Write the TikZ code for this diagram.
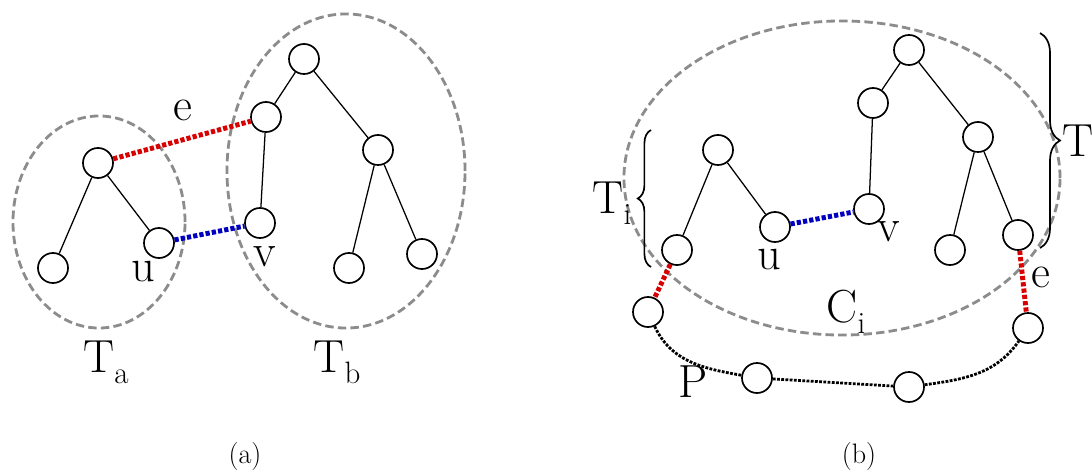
\documentclass[tikz,border=0pt]{standalone}
\usetikzlibrary{decorations.pathreplacing}
\newcommand{\lblsub}[2]{#1\raisebox{-8pt}{\fontsize{22}{22}\selectfont #2}}

\begin{document}
\begin{tikzpicture}[x=0.025cm,y=-0.025cm,
  vert/.style={draw,circle,line width=1.2pt,minimum size=0.75cm,inner sep=0pt},
  edge/.style={line width=0.9pt},
  part/.style={gray!90,line width=2pt,dash pattern=on 6pt off 3pt},
  redge/.style={red!85!black,line width=3.5pt,dash pattern=on 3pt off 1.5pt},
  bedge/.style={blue!75!black,line width=3.5pt,dash pattern=on 3pt off 1.5pt},
  pth/.style={line width=2pt,dash pattern=on 2pt off 1pt},
  lbl/.style={font=\fontsize{33}{33}\selectfont,inner sep=0pt},
  brc/.style={decorate,line width=1.2pt}]
  \useasboundingbox (0,0) rectangle (1092,472);

  % (a) two trees joined by e
  \draw[part] (99,222) ellipse [x radius=2.15cm,y radius=2.65cm];
  \draw[part] (346,171) ellipse [x radius=2.975cm,y radius=3.925cm];
  \node[vert] (ra) at (98,163) {};
  \node[vert] (la) at (53,268) {};
  \node[vert] (ua) at (159,243) {};
  \node[vert] (rb) at (304,59) {};
  \node[vert] (mb) at (266,117) {};
  \node[vert] (va) at (260,223) {};
  \node[vert] (cb) at (378,150) {};
  \node[vert] (lb) at (349,268) {};
  \node[vert] (kb) at (422,254) {};
  \draw[edge] (ra)--(la) (ra)--(ua);
  \draw[edge] (rb)--(mb) (mb)--(va) (rb)--(cb) (cb)--(lb) (cb)--(kb);
  \draw[redge] (ra)--(mb);
  \draw[bedge] (ua)--(va);
  \node[lbl] (ea_l) at (183,110) {e};
  \node[lbl] (ua_l) at (143,272) {u};
  \node[lbl] (va_l) at (265,257) {v};
  \node[lbl] (ta) at (106,362) {\lblsub{T}{a}};
  \node[lbl] (tb) at (337,362) {\lblsub{T}{b}};

  % (b) cycle C_i through the path P
  \draw[part] (842,178) ellipse [x radius=5.45cm,y radius=3.925cm];
  \node[vert] (rt) at (909,50) {};
  \node[vert] (rl) at (873,103) {};
  \node[vert] (vb) at (869,209) {};
  \node[vert] (rr) at (978,137) {};
  \node[vert] (lf) at (950,250) {};
  \node[vert] (ea) at (1018,235) {};
  \node[vert] (ti) at (718,150) {};
  \node[vert] (tl) at (677,250) {};
  \node[vert] (ub) at (775,227) {};
  \node[vert] (p1) at (648,312) {};
  \node[vert] (p2) at (757,378) {};
  \node[vert] (p3) at (909,387) {};
  \node[vert] (eb) at (1028,328) {};
  \draw[edge] (rt)--(rl) (rl)--(vb) (rt)--(rr) (rr)--(lf) (rr)--(ea);
  \draw[edge] (ti)--(tl) (ti)--(ub);
  \draw[bedge] (ub)--(vb);
  \draw[redge] (tl)--(p1);
  \draw[redge] (ea)--(eb);
  \draw[pth] (p1) to[out=-65,in=170] (p2);
  \draw[pth] (p2)--(p3);
  \draw[pth] (p3) to[out=8,in=-125] (eb);
  \coordinate (bi1) at (651,267);
  \coordinate (bi2) at (651,130);
  \draw[brc,decoration={brace,amplitude=0.33cm}] (bi1)--(bi2);
  \coordinate (bj1) at (1040,33);
  \coordinate (bj2) at (1040,248);
  \draw[brc,decoration={brace,amplitude=0.5cm}] (bj1)--(bj2);
  \node[lbl] (ti_l) at (612,203) {\lblsub{T}{i}};
  \node[lbl,anchor=base west] (tj_l) at (1062,157) {\lblsub{T}{j}};
  \node[lbl] (ub_l) at (769,260) {u};
  \node[lbl] (vb_l) at (889,232) {v};
  \node[lbl] (eb_l) at (1041,277) {e};
  \node[lbl] (ci_l) at (846,312) {\lblsub{C}{i}};
  \node[lbl] (p_l) at (693,382) {P};

  \node[font=\fontsize{20}{24}\selectfont] (capa) at (245,456) {(a)};
  \node[font=\fontsize{20}{24}\selectfont] (capb) at (859,456) {(b)};
\end{tikzpicture}
\end{document}
